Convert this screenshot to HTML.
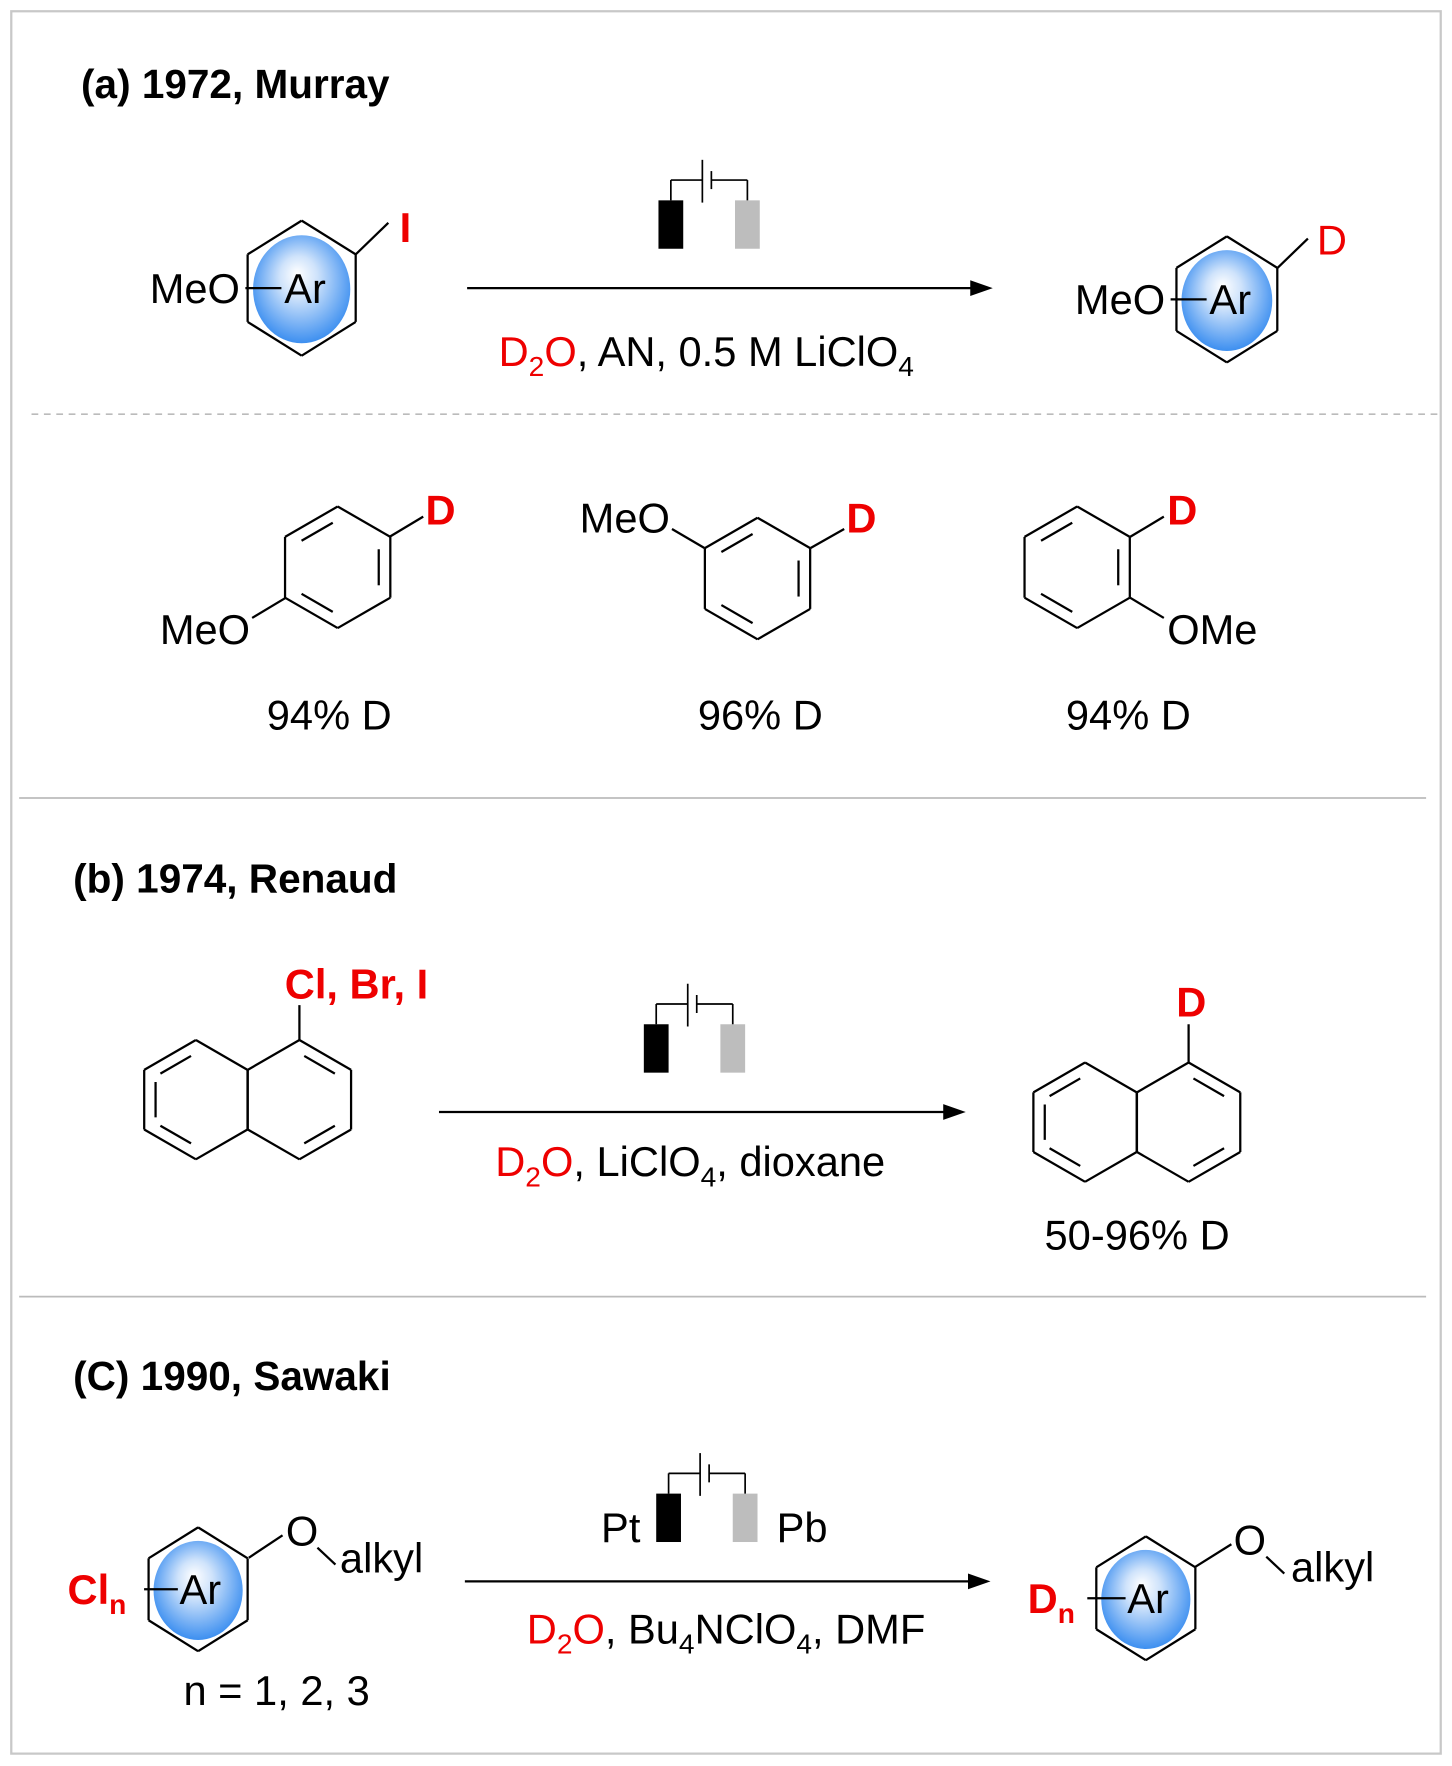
<!DOCTYPE html>
<html><head><meta charset="utf-8"><style>
html,body{margin:0;padding:0;background:#fff}
svg{display:block}
text{font-family:"Liberation Sans",Arial,sans-serif;}
</style></head><body>
<svg id="s" width="1452" height="1766" viewBox="0 0 1290 1569" xmlns="http://www.w3.org/2000/svg">
<defs>
<radialGradient id="bg" cx="50%" cy="45%" r="55%" fx="45%" fy="35%">
<stop offset="0" stop-color="#ffffff"/><stop offset="0.35" stop-color="#cfe3fb"/><stop offset="1" stop-color="#3d8ff0"/>
</radialGradient>
</defs>
<rect x="10" y="10" width="1270" height="1548" fill="none" stroke="#c8c8c8" stroke-width="2"/>
<line x1="28" y1="368" x2="1278" y2="368" stroke="#bbb" stroke-width="1.5" stroke-dasharray="6,5"/>
<line x1="17" y1="709" x2="1267" y2="709" stroke="#bbb" stroke-width="1.5"/>
<line x1="17" y1="1152" x2="1267" y2="1152" stroke="#bbb" stroke-width="1.5"/>
<g id="draw" stroke="#000" stroke-width="2" fill="none"></g>
<g font-size="37">
<text x="72" y="87" font-weight="bold" font-size="36">(a) 1972, Murray</text>
<text x="133" y="269">MeO</text>
<text x="271" y="269" text-anchor="middle">Ar</text>
<text x="355" y="215" fill="#e00" font-weight="bold">I</text>
<text x="443" y="325"><tspan fill="#e00">D</tspan><tspan fill="#e00" font-size="25" dy="9">2</tspan><tspan fill="#e00" dy="-9">O</tspan>, AN, 0.5 M LiClO<tspan font-size="25" dy="9">4</tspan></text>
<text x="955" y="279">MeO</text>
<text x="1093" y="279" text-anchor="middle">Ar</text>
<text x="1170" y="226" fill="#e00">D</text>
<text x="142" y="572">MeO</text>
<text x="378" y="466" fill="#e00" font-weight="bold">D</text>
<text x="237" y="648">94% D</text>
<text x="515" y="473">MeO</text>
<text x="752" y="473" fill="#e00" font-weight="bold">D</text>
<text x="620" y="648">96% D</text>
<text x="1037" y="466" fill="#e00" font-weight="bold">D</text>
<text x="1037" y="572">OMe</text>
<text x="947" y="648">94% D</text>
<text x="65" y="793" font-weight="bold" font-size="36">(b) 1974, Renaud</text>
<text x="253" y="887" fill="#e00" font-weight="bold">Cl, Br, I</text>
<text x="440" y="1045"><tspan fill="#e00">D</tspan><tspan fill="#e00" font-size="25" dy="9">2</tspan><tspan fill="#e00" dy="-9">O</tspan>,  LiClO<tspan font-size="25" dy="9">4</tspan><tspan dy="-9">, dioxane</tspan></text>
<text x="1045" y="903" fill="#e00" font-weight="bold">D</text>
<text x="928" y="1110">50-96% D</text>
<text x="65" y="1235" font-weight="bold" font-size="36">(C) 1990, Sawaki</text>
<text x="60" y="1425" fill="#e00" font-weight="bold">Cl<tspan font-size="25" dy="9">n</tspan></text>
<text x="178" y="1425" text-anchor="middle">Ar</text>
<text x="254" y="1373">O</text>
<text x="302" y="1397">alkyl</text>
<text x="163" y="1515">n = 1, 2, 3</text>
<text x="534" y="1370">Pt</text>
<text x="690" y="1370">Pb</text>
<text x="468" y="1460"><tspan fill="#e00">D</tspan><tspan fill="#e00" font-size="25" dy="9">2</tspan><tspan fill="#e00" dy="-9">O</tspan>, Bu<tspan font-size="25" dy="9">4</tspan><tspan dy="-9">NClO</tspan><tspan font-size="25" dy="9">4</tspan><tspan dy="-9">, DMF</tspan></text>
<text x="913" y="1433" fill="#e00" font-weight="bold">D<tspan font-size="25" dy="9">n</tspan></text>
<text x="1020" y="1433" text-anchor="middle">Ar</text>
<text x="1096" y="1381">O</text>
<text x="1147" y="1405">alkyl</text>
</g>
</svg>
<script>
var g=document.getElementById('draw'),NS='http://www.w3.org/2000/svg';
function el(t,a,p){var e=document.createElementNS(NS,t);for(var k in a)e.setAttribute(k,a[k]);(p||g).appendChild(e);return e;}
function L(x1,y1,x2,y2,w){el('line',{x1:x1,y1:y1,x2:x2,y2:y2,'stroke-width':w||2});}
function hex(cx,cy,R,dbl,wf){var w=R*(wf||0.866),v=[[cx,cy-R],[cx+w,cy-R/2],[cx+w,cy+R/2],[cx,cy+R],[cx-w,cy+R/2],[cx-w,cy-R/2]];
 for(var i=0;i<6;i++){var a=v[i],b=v[(i+1)%6];L(a[0],a[1],b[0],b[1]);}
 (dbl||[]).forEach(function(i){var a=v[i],b=v[(i+1)%6];var s=0.78;
  var ax=cx+(a[0]-cx)*s,ay=cy+(a[1]-cy)*s,bx=cx+(b[0]-cx)*s,by=cy+(b[1]-cy)*s;
  var t=0.12;L(ax+(bx-ax)*t,ay+(by-ay)*t,bx-(bx-ax)*t,by-(by-ay)*t);});
 return v;}
function arring(cx,cy,R){hex(cx,cy,R,[],0.8);el('ellipse',{cx:cx,cy:cy+1,rx:R*0.72,ry:R*0.8,fill:'url(#bg)',stroke:'none'});}
function batt(x,y){
 el('rect',{x:x,y:y,width:22,height:43,fill:'#000',stroke:'none'});
 el('rect',{x:x+68,y:y,width:22,height:43,fill:'#bdbdbd',stroke:'none'});
 L(x+11,y,x+11,y-18,1.5);L(x+11,y-18,x+39,y-18,1.5);L(x+39,y-36,x+39,y+2,1.5);
 L(x+47,y-26,x+47,y-10,1.5);L(x+47,y-18,x+79,y-18,1.5);L(x+79,y-18,x+79,y,1.5);}
function arrow(x1,x2,y){L(x1,y,x2-10,y,2);el('path',{d:'M'+(x2-20)+','+(y-7)+' L'+x2+','+y+' L'+(x2-20)+','+(y+7)+' Z',fill:'#000',stroke:'none'});}
// (a)
arring(268,256,60);L(218,256,250,256);L(316,226,345,198);
batt(585,178);arrow(415,882,256);
arring(1090,266,56);L(1040,266,1072,266);L(1135,238,1162,212);
// row
hex(300,504,54,[5,1,3]);L(346,477,376,459);L(254,531,224,549);
hex(673,514,54,[5,1,3]);L(626,487,597,470);L(720,487,750,470);
hex(957,504,54,[5,1,3]);L(1004,477,1034,459);L(1004,531,1034,549);
// (b)
hex(174,977,53,[5,4,3]);hex(266,977,53,[0,2]);L(266,924,266,893);
batt(572,910);arrow(390,858,988);
hex(964,997,53,[5,4,3]);hex(1056,997,53,[0,2]);L(1056,944,1056,910);
// (c)
arring(176,1412,55);L(128,1412,158,1412);L(221,1384,251,1364);L(282,1375,298,1390);
batt(583,1327);arrow(413,880,1405);
arring(1018,1420,55);L(966,1420,1000,1420);L(1062,1392,1094,1372);L(1125,1383,1141,1398);
var s=document.getElementById('s');s.appendChild(s.querySelector('g[font-size]'));
</script>
</body></html>
